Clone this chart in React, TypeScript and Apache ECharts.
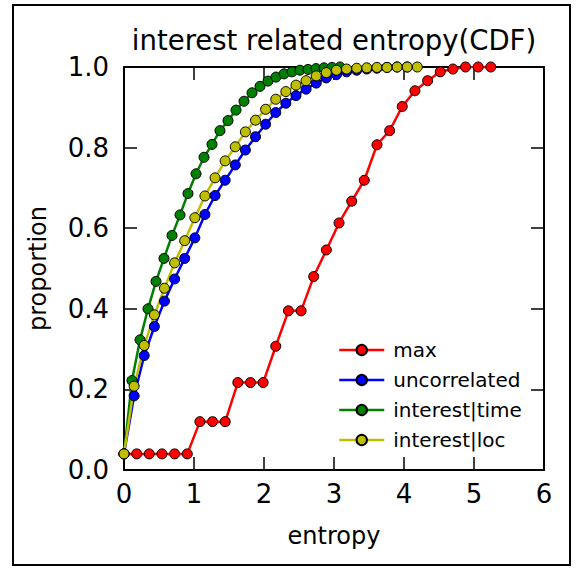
import React, { useEffect, useRef } from "react";
import * as echarts from "echarts";

const seriesNames = ["max", "uncorrelated", "interest|time", "interest|loc"];
const seriesColors = ["#ff0000", "#0000ff", "#008000", "#bfbf00"];

const maxX = [0, 0.181, 0.361, 0.542, 0.723, 0.904, 1.084, 1.265, 1.446, 1.626, 1.807, 1.988, 2.168, 2.349, 2.53, 2.71, 2.891, 3.072, 3.253, 3.433, 3.614, 3.795, 3.975, 4.156, 4.337, 4.518, 4.698, 4.879, 5.06, 5.24];
const maxY = [0.04, 0.04, 0.04, 0.04, 0.04, 0.04, 0.12, 0.12, 0.12, 0.217, 0.217, 0.217, 0.307, 0.395, 0.395, 0.48, 0.546, 0.613, 0.667, 0.719, 0.807, 0.842, 0.902, 0.941, 0.966, 0.988, 0.995, 1.0, 1.0, 1.0];

const uncorrX = [0, 0.145, 0.289, 0.434, 0.578, 0.723, 0.867, 1.012, 1.156, 1.301, 1.445, 1.59, 1.734, 1.879, 2.023, 2.168, 2.312, 2.457, 2.601, 2.746, 2.89, 3.035, 3.179, 3.324, 3.468, 3.613, 3.757, 3.902, 4.046];
const uncorrY = [0.04, 0.184, 0.284, 0.356, 0.419, 0.474, 0.525, 0.576, 0.634, 0.681, 0.719, 0.757, 0.794, 0.827, 0.858, 0.887, 0.91, 0.929, 0.945, 0.96, 0.973, 0.981, 0.988, 0.992, 0.995, 0.997, 0.999, 1.0, 1.0];

const timeX = [0, 0.114, 0.229, 0.343, 0.457, 0.571, 0.686, 0.8, 0.914, 1.029, 1.143, 1.257, 1.371, 1.486, 1.6, 1.714, 1.829, 1.943, 2.057, 2.171, 2.286, 2.4, 2.514, 2.629, 2.743, 2.857, 2.971, 3.086];
const timeY = [0.04, 0.222, 0.323, 0.4, 0.468, 0.525, 0.582, 0.633, 0.686, 0.735, 0.776, 0.808, 0.842, 0.867, 0.893, 0.915, 0.936, 0.952, 0.965, 0.975, 0.983, 0.988, 0.992, 0.994, 0.996, 0.998, 0.999, 1.0];

const locX = [0, 0.145, 0.289, 0.434, 0.578, 0.723, 0.867, 1.012, 1.156, 1.301, 1.445, 1.59, 1.734, 1.879, 2.023, 2.168, 2.312, 2.457, 2.601, 2.746, 2.89, 3.035, 3.179, 3.324, 3.468, 3.613, 3.757, 3.902, 4.046, 4.19];
const locY = [0.04, 0.208, 0.309, 0.385, 0.451, 0.514, 0.569, 0.626, 0.68, 0.725, 0.767, 0.802, 0.839, 0.868, 0.895, 0.92, 0.939, 0.955, 0.966, 0.978, 0.986, 0.992, 0.995, 0.997, 0.998, 0.999, 0.999, 1.0, 1.0, 1.0];

const xTicks = [0, 1, 2, 3, 4, 5, 6];
const yTicks = [0, 0.2, 0.4, 0.6, 0.8, 1.0];

const allX = [maxX, uncorrX, timeX, locX];
const allY = [maxY, uncorrY, timeY, locY];

const FONT = "DejaVu Sans";

export default function App() {
  const ref = useRef<HTMLDivElement>(null);
  useEffect(() => {
    if (!ref.current) return;
    const chart = echarts.init(ref.current, null, { renderer: "svg" });
    const axisCommon = {
      type: "value" as const,
      axisLine: { show: true, onZero: false, lineStyle: { color: "#000", width: 2 } },
      axisTick: { show: true, inside: true, length: 13, lineStyle: { color: "#000", width: 1.5 } },
      splitLine: { show: false },
    };
    const series = seriesNames.map((name, i) => ({
      name,
      type: "line",
      xAxisIndex: 0,
      yAxisIndex: 0,
      data: allX[i].map((x, j) => [x, allY[i][j]]),
      symbol: "circle",
      symbolSize: 10,
      showSymbol: true,
      clip: true,
      lineStyle: { color: seriesColors[i], width: 2.5 },
      itemStyle: { color: seriesColors[i], borderColor: "#000", borderWidth: 1 },
      emphasis: { disabled: true },
    }));
    chart.setOption({
      animation: false,
      backgroundColor: "#fff",
      textStyle: { fontFamily: FONT },
      grid: { left: 124, top: 67, right: 34, bottom: 98, containLabel: false },
      xAxis: [
        {
          ...axisCommon,
          position: "bottom",
          min: xTicks[0],
          max: xTicks[xTicks.length - 1],
          interval: 1,
          name: "entropy",
          nameLocation: "middle",
          nameGap: 54,
          nameTextStyle: { fontSize: 24, color: "#000", fontFamily: FONT },
          axisLabel: { fontSize: 26, color: "#000", margin: 11, fontFamily: FONT },
        },
        {
          ...axisCommon,
          position: "top",
          min: xTicks[0],
          max: xTicks[xTicks.length - 1],
          interval: 1,
          axisLabel: { show: false },
        },
      ],
      yAxis: [
        {
          ...axisCommon,
          position: "left",
          min: yTicks[0],
          max: yTicks[yTicks.length - 1],
          interval: 0.2,
          name: "proportion",
          nameLocation: "middle",
          nameGap: 74,
          nameRotate: 90,
          nameTextStyle: { fontSize: 24, color: "#000", fontFamily: FONT },
          axisLabel: {
            fontSize: 26,
            color: "#000",
            margin: 15,
            fontFamily: FONT,
            formatter: (v: number) => v.toFixed(1),
          },
        },
        {
          ...axisCommon,
          position: "right",
          min: yTicks[0],
          max: yTicks[yTicks.length - 1],
          interval: 0.2,
          axisLabel: { show: false },
        },
      ],
      legend: {
        orient: "vertical",
        left: 333,
        top: 335,
        itemWidth: 45,
        itemHeight: 13,
        itemGap: 10,
        data: seriesNames,
        lineStyle: { width: 2.5 },
        textStyle: { fontSize: 20, color: "#000", fontFamily: FONT, padding: [0, 0, 0, 4] },
        selectedMode: false,
      },
      graphic: [
        {
          type: "rect",
          shape: { x: 13, y: 5, width: 557, height: 560 },
          style: { fill: "none", stroke: "#000", lineWidth: 2 },
          silent: true,
          z: 100,
        },
        {
          type: "text",
          x: 334,
          y: 40,
          style: {
            text: "interest related entropy(CDF)",
            fontSize: 27.5,
            fontFamily: FONT,
            fill: "#000",
            textAlign: "center",
            textVerticalAlign: "middle",
          },
        },
      ],
      series,
    });
    return () => chart.dispose();
  }, []);
  return (
    <div
      ref={ref}
      style={{ position: "fixed", left: 0, top: 0, width: 578, height: 568 }}
    />
  );
}
